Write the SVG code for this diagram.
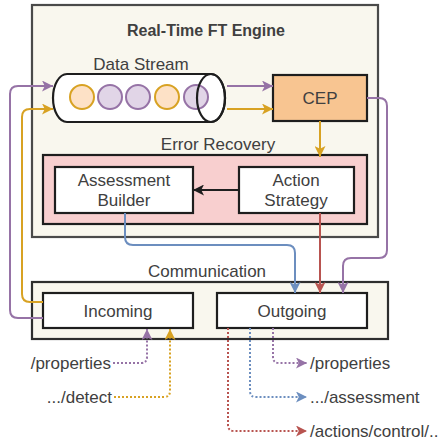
<svg xmlns="http://www.w3.org/2000/svg" width="443" height="447" viewBox="0 0 443 447">
<style>
text{font-family:"Liberation Sans",Arial,sans-serif;fill:#404040;font-size:17px}
.t{text-anchor:middle}
.box{fill:#ffffff;stroke:#1e1e1e;stroke-width:2.2}
.c{fill:none;stroke-width:2}
.d{fill:none;stroke-width:2;stroke-dasharray:2 2}
.p{stroke:#9673a6}.o{stroke:#d8a223}.b{stroke:#6c8ebf}.r{stroke:#b85450}.k{stroke:#1e1e1e}
</style>
<defs>
<marker id="mp" viewBox="0 0 10 10" refX="10" refY="5" markerWidth="11" markerHeight="11" markerUnits="userSpaceOnUse" orient="auto"><path d="M0,0L10,5L0,10L2.5,5Z" fill="#9673a6"/></marker>
<marker id="mo" viewBox="0 0 10 10" refX="10" refY="5" markerWidth="11" markerHeight="11" markerUnits="userSpaceOnUse" orient="auto"><path d="M0,0L10,5L0,10L2.5,5Z" fill="#d8a223"/></marker>
<marker id="mb" viewBox="0 0 10 10" refX="10" refY="5" markerWidth="11" markerHeight="11" markerUnits="userSpaceOnUse" orient="auto"><path d="M0,0L10,5L0,10L2.5,5Z" fill="#6c8ebf"/></marker>
<marker id="mr" viewBox="0 0 10 10" refX="10" refY="5" markerWidth="11" markerHeight="11" markerUnits="userSpaceOnUse" orient="auto"><path d="M0,0L10,5L0,10L2.5,5Z" fill="#b85450"/></marker>
<marker id="mk" viewBox="0 0 10 10" refX="10" refY="5" markerWidth="11" markerHeight="11" markerUnits="userSpaceOnUse" orient="auto"><path d="M0,0L10,5L0,10L2.5,5Z" fill="#1e1e1e"/></marker>
</defs>
<rect width="443" height="447" fill="#ffffff"/>

<g id="engine">
<rect x="32" y="5" width="346" height="232" fill="#f9f7ee" stroke="#4a4a4a" stroke-width="2.2"/>
<text class="t" x="206" y="36" style="font-weight:bold;font-size:16px">Real-Time FT Engine</text>
</g>

<g id="data-stream">
<text class="t" x="141" y="70">Data Stream</text>
<path d="M67,74 L211,74 A14,24 0 0 1 211,122 L67,122 A14,24 0 0 1 67,74 Z" fill="#ffffff"/>
<circle cx="82" cy="97" r="12" fill="#fde1c6" stroke="#d8a223" stroke-width="2"/>
<circle cx="110" cy="97" r="12" fill="#e1d5e7" stroke="#9673a6" stroke-width="2"/>
<circle cx="138" cy="97" r="12" fill="#e1d5e7" stroke="#9673a6" stroke-width="2"/>
<circle cx="167" cy="97" r="12" fill="#fde1c6" stroke="#d8a223" stroke-width="2"/>
<circle cx="196" cy="97" r="12" fill="#e1d5e7" stroke="#9673a6" stroke-width="2"/>
<path d="M67,74 L211,74 A14,24 0 0 1 211,122 L67,122 A14,24 0 0 1 67,74 Z" fill="none" stroke="#1e1e1e" stroke-width="2.2"/>
<ellipse cx="211" cy="98" rx="14" ry="24" fill="none" stroke="#1e1e1e" stroke-width="2.2"/>
</g>

<g id="cep">
<rect x="273" y="75" width="94" height="46" fill="#f8c591" stroke="#1e1e1e" stroke-width="2.2"/>
<text class="t" x="320" y="104">CEP</text>
</g>

<g id="error-recovery">
<text class="t" x="218" y="150">Error Recovery</text>
<rect x="43" y="155" width="324" height="69" fill="#f8cfcf" stroke="#1e1e1e" stroke-width="2.2"/>
</g>

<g id="assessment-builder">
<rect class="box" x="55" y="167" width="138" height="46"/>
<text class="t" x="124" y="186">Assessment</text>
<text class="t" x="124" y="206">Builder</text>
</g>

<g id="action-strategy">
<rect class="box" x="239" y="167" width="115" height="46"/>
<text class="t" x="296" y="186">Action</text>
<text class="t" x="296" y="206">Strategy</text>
</g>

<g id="communication">
<text class="t" x="207" y="277">Communication</text>
<rect x="32" y="282" width="356" height="57" fill="#f9f7ee" stroke="#2e2e2e" stroke-width="2.2"/>
</g>

<g id="incoming">
<rect class="box" x="43" y="293" width="150" height="35"/>
<text class="t" x="118" y="317">Incoming</text>
</g>

<g id="outgoing">
<rect class="box" x="217" y="293" width="150" height="35"/>
<text class="t" x="292" y="317">Outgoing</text>
</g>

<g id="endpoints">
<text x="111" y="369" style="text-anchor:end">/properties</text>
<text x="112" y="403" style="text-anchor:end">.../detect</text>
<text x="310" y="369">/properties</text>
<text x="310" y="403">.../assessment</text>
<text x="310" y="437">/actions/control/..</text>
</g>

<g id="connectors">
<path class="c p" d="M227,86 L273,86" marker-end="url(#mp)"/>
<path class="c o" d="M227,109 L273,109" marker-end="url(#mo)"/>
<path class="c p" d="M43,318 L18,318 Q10,318 10,310 L10,94 Q10,86 18,86 L53,86" marker-end="url(#mp)"/>
<path class="c o" d="M43,302 L30,302 Q22,302 22,294 L22,117 Q22,109 30,109 L53,109" marker-end="url(#mo)"/>
<path class="c o" d="M320,121 L320,157" marker-end="url(#mo)"/>
<path class="c k" d="M239,190 L193,190" marker-end="url(#mk)"/>
<path class="c b" d="M125,213 L125,237 Q125,245 133,245 L287,245 Q295,245 295,253 L295,293" marker-end="url(#mb)"/>
<path class="c r" d="M320,213 L320,293" marker-end="url(#mr)"/>
<path class="c p" d="M367,98 L379,98 Q387,98 387,106 L387,250 Q387,258 379,258 L351,258 Q343,258 343,266 L343,293" marker-end="url(#mp)"/>
<path class="d p" d="M113,363 L141,363 Q147,363 147,357 L147,329" marker-end="url(#mp)"/>
<path class="d o" d="M114,397 L164,397 Q170,397 170,391 L170,329" marker-end="url(#mo)"/>
<path class="d p" d="M273,328 L273,357 Q273,363 279,363 L307,363" marker-end="url(#mp)"/>
<path class="d b" d="M250,328 L250,391 Q250,397 256,397 L307,397" marker-end="url(#mb)"/>
<path class="d r" d="M228,328 L228,425 Q228,431 234,431 L307,431" marker-end="url(#mr)"/>
</g>
</svg>
